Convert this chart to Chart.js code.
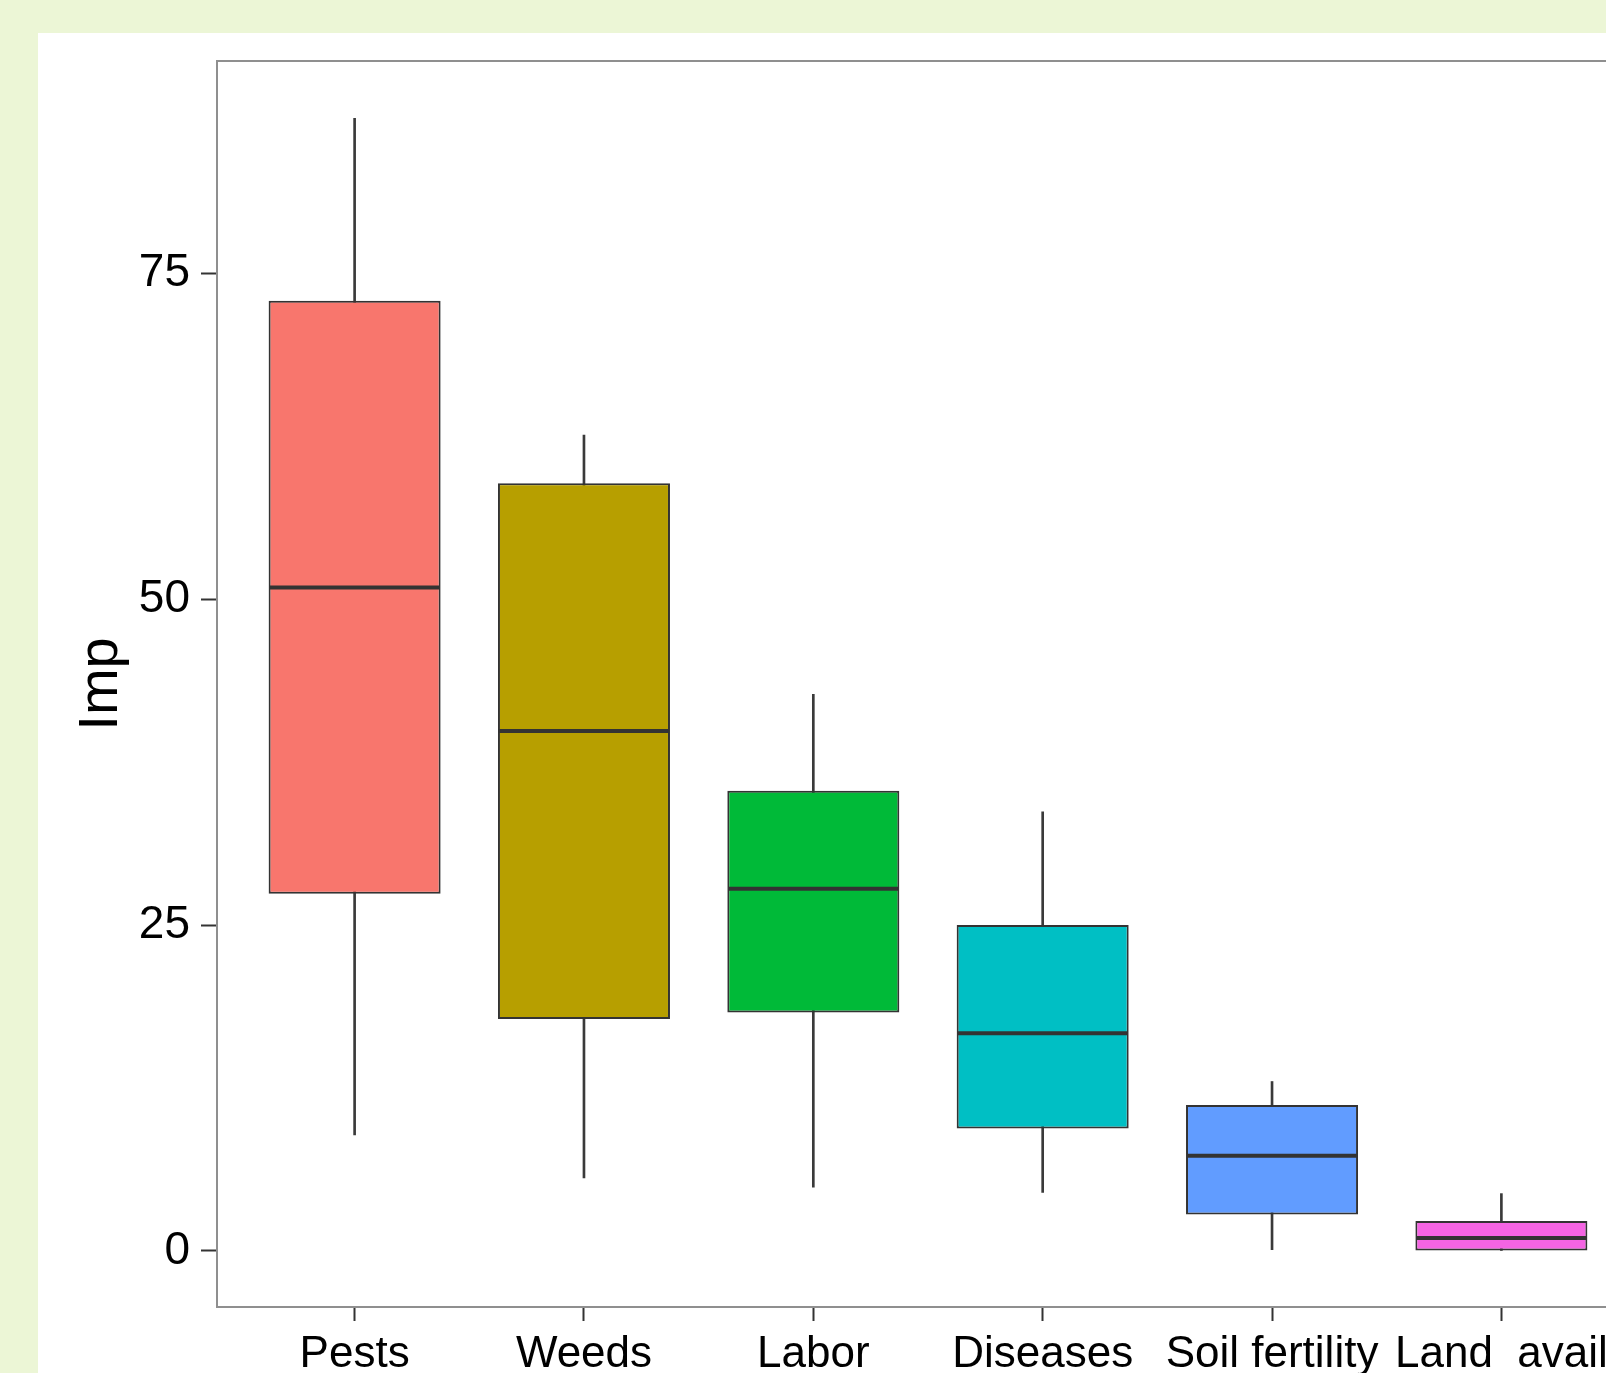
<!DOCTYPE html>
<html>
<head>
<meta charset="utf-8">
<script src="https://cdn.jsdelivr.net/npm/chart.js@4/dist/chart.umd.min.js"></script>
<style>
  html, body { margin: 0; padding: 0; background: #ecf6d6; overflow: hidden; width: 1606px; height: 1373px; }
  #panel { position: absolute; left: 38px; top: 33px; width: 1700px; height: 1340px; background: #ffffff; }
  canvas { display: block; }
</style>
</head>
<body>
<div id="panel"><canvas id="c" width="1700" height="1340"></canvas></div>
<script>
const categories = ["Pests", "Weeds", "Labor", "Diseases", "Soil fertility", "Land_avail"];
const whiskerLow = [8.9, 5.6, 4.9, 4.5, 0.1, 0.0];
const q1 = [27.4, 17.8, 18.3, 9.4, 2.8, 0.0];
const median = [50.9, 39.9, 27.8, 16.7, 7.3, 1.0];
const q3 = [72.9, 58.9, 35.3, 25.0, 11.2, 2.3];
const whiskerHigh = [86.9, 62.6, 42.7, 33.7, 13.0, 4.4];
const colors = ["#F8766D", "#B79F00", "#00BA38", "#00BFC4", "#619CFF", "#F564E3"];
const yTicks = [0, 25, 50, 75];

const boxPlugin = {
  id: 'boxExtras',
  afterDatasetsDraw(chart) {
    const {ctx, scales: {x, y}} = chart;
    ctx.save();
    ctx.strokeStyle = '#333333';
    ctx.lineWidth = 4;
    median.forEach((m, i) => {
      const x0 = x.getPixelForValue(i - 0.375);
      const x1 = x.getPixelForValue(i + 0.375);
      const py = y.getPixelForValue(m);
      ctx.beginPath();
      ctx.moveTo(x0 + 1, py);
      ctx.lineTo(x1 - 1, py);
      ctx.stroke();
    });
    ctx.restore();
  },
  afterDraw(chart) {
    const {ctx, chartArea} = chart;
    ctx.save();
    ctx.strokeStyle = '#8f8f8f';
    ctx.lineWidth = 2;
    ctx.beginPath();
    ctx.moveTo(chartArea.left, chartArea.top);
    ctx.lineTo(chartArea.right, chartArea.top);
    ctx.lineTo(chartArea.right, chartArea.bottom);
    ctx.stroke();
    ctx.restore();
  }
};

const font = "'Liberation Sans', Arial, sans-serif";

new Chart(document.getElementById('c'), {
  type: 'bar',
  data: {
    datasets: [
      {
        label: 'box',
        data: categories.map((c, i) => ({x: i, y: [q1[i], q3[i]]})),
        backgroundColor: colors,
        borderColor: '#333333',
        borderWidth: 2,
        borderSkipped: false,
        grouped: false,
        categoryPercentage: 0.75,
        barPercentage: 1.0,
        order: 1
      },
      {
        label: 'whisker',
        data: categories.map((c, i) => ({x: i, y: [whiskerLow[i], whiskerHigh[i]]})),
        backgroundColor: '#3a3a3a',
        borderWidth: 0,
        barThickness: 2,
        grouped: false,
        order: 2
      }
    ]
  },
  options: {
    responsive: false,
    animation: false,
    devicePixelRatio: 1,
    layout: { padding: { left: 0, top: 28, right: 99, bottom: 0 } },
    plugins: { legend: { display: false }, tooltip: { enabled: false } },
    scales: {
      x: {
        type: 'linear',
        min: -0.6,
        max: 5.6,
        offset: false,
        afterBuildTicks(scale) { scale.ticks = categories.map((c, i) => ({value: i})); },
        afterFit(scale) { scale.height = 66; scale.paddingLeft = 0; scale.paddingRight = 0; },
        ticks: {
          callback: (v) => categories[v],
          font: { family: font, size: 44 },
          color: '#000000',
          padding: 7,
          maxRotation: 0,
          autoSkip: false
        },
        grid: { offset: false, drawOnChartArea: false, drawTicks: true, tickLength: 14, tickColor: '#333333', tickWidth: 2 },
        border: { display: true, color: '#8f8f8f', width: 2 }
      },
      y: {
        min: -4.3,
        max: 91.3,
        afterBuildTicks(scale) { scale.ticks = yTicks.map(v => ({value: v})); },
        afterFit(scale) { scale.width = 179; scale.paddingTop = 0; scale.paddingBottom = 0; },
        ticks: {
          font: { family: font, size: 46 },
          color: '#000000',
          padding: 11
        },
        grid: { drawOnChartArea: false, drawTicks: true, tickLength: 16, tickColor: '#333333', tickWidth: 2 },
        border: { display: true, color: '#8f8f8f', width: 2 },
        title: {
          display: true,
          text: 'Imp',
          font: { family: font, size: 56 },
          color: '#000000',
          padding: { top: 30, bottom: 0 }
        }
      }
    }
  },
  plugins: [boxPlugin]
});
</script>
</body>
</html>
